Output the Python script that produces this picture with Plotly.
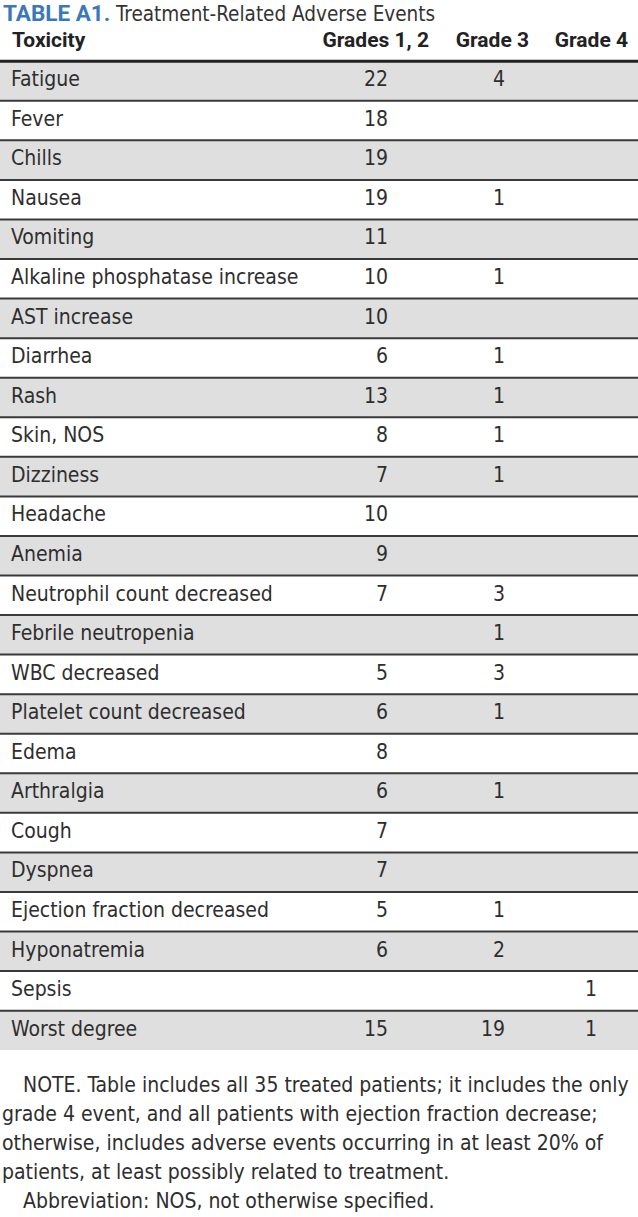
import plotly.graph_objects as go

# ---------------- data ----------------
toxicity = [
    "Fatigue", "Fever", "Chills", "Nausea", "Vomiting",
    "Alkaline phosphatase increase", "AST increase", "Diarrhea", "Rash",
    "Skin, NOS", "Dizziness", "Headache", "Anemia",
    "Neutrophil count decreased", "Febrile neutropenia", "WBC decreased",
    "Platelet count decreased", "Edema", "Arthralgia", "Cough", "Dyspnea",
    "Ejection fraction decreased", "Hyponatremia", "Sepsis", "Worst degree",
]
grades_1_2 = [22, 18, 19, 19, 11, 10, 10, 6, 13, 8, 7, 10, 9, 7, None, 5, 6, 8, 6, 7, 7, 5, 6, None, 15]
grade_3 = [4, None, None, 1, None, 1, None, 1, 1, 1, 1, None, None, 3, 1, 3, 1, None, 1, None, None, 1, 2, None, 19]
grade_4 = [None] * 23 + [1, 1]
headers = ["Toxicity", "Grades 1, 2", "Grade 3", "Grade 4"]
title_label = "TABLE A1."
title_text = "Treatment-Related Adverse Events"
note_lines = [
    "NOTE. Table includes all 35 treated patients; it includes the only",
    "grade 4 event, and all patients with ejection fraction decrease;",
    "otherwise, includes adverse events occurring in at least 20% of",
    "patients, at least possibly related to treatment.",
    "Abbreviation: NOS, not otherwise specified.",
]

# ---------------- layout constants ----------------
W, H = 638, 1217
ROW_PX = 39.56
ROW0_PX = 81.0
FONT = "Liberation Sans Narrow, DejaVu Sans Condensed, Arial Narrow, sans-serif"
HFONT = "Roboto, DejaVu Sans Condensed, sans-serif"
TXT = "#2e2e2e"
GRAY = "#dfdfe0"
LINE = "#3a3a3a"

n = len(toxicity)
rows = list(range(n))
ytop = (0 - ROW0_PX) / ROW_PX
ybot = (H - ROW0_PX) / ROW_PX


def fmt(v):
    return "" if v is None else str(v)


fig = go.Figure()

# alternating row backgrounds
fig.add_trace(go.Bar(
    x=[W] * n, y=rows, base=0, orientation="h", width=1.0,
    marker=dict(color=[GRAY if i % 2 == 0 else "#ffffff" for i in rows], line=dict(width=0)),
    hoverinfo="skip", showlegend=False,
))

# row labels
fig.add_trace(go.Scatter(
    x=[11] * n, y=rows, mode="text", text=toxicity, textposition="middle right",
    textfont=dict(family=FONT, size=21, color=TXT), hoverinfo="skip", showlegend=False,
))
# numeric columns (right aligned)
for xr, col in [(388, grades_1_2), (505, grade_3), (597, grade_4)]:
    fig.add_trace(go.Scatter(
        x=[xr] * n, y=rows, mode="text", text=[fmt(v) for v in col],
        textposition="middle left",
        textfont=dict(family=FONT, size=21, color=TXT), hoverinfo="skip", showlegend=False,
    ))

# header
fig.add_trace(go.Scatter(
    x=[12], y=[-1], mode="text", text=["<b>" + headers[0] + "</b>"], textposition="middle right",
    textfont=dict(family=HFONT, size=21, color="#222222"), hoverinfo="skip", showlegend=False,
))
fig.add_trace(go.Scatter(
    x=[429, 529, 628], y=[-1, -1, -1], mode="text",
    text=["<b>" + h + "</b>" for h in headers[1:]], textposition="middle left",
    textfont=dict(family=HFONT, size=21, color="#222222"), hoverinfo="skip", showlegend=False,
))

# rules
shapes = [dict(type="line", xref="x", yref="y", x0=0, x1=W, y0=-0.5, y1=-0.5,
               line=dict(color="#222222", width=3))]
for i in range(n - 1):
    shapes.append(dict(type="line", xref="x", yref="y", x0=0, x1=W, y0=i + 0.5, y1=i + 0.5,
                       line=dict(color=LINE, width=2)))

annotations = [dict(
    xref="x", yref="y", x=1, y=(13 - ROW0_PX) / ROW_PX, xanchor="left", yanchor="middle",
    showarrow=False,
    text=f"<span style='color:#3b78bb;font-family:Roboto;font-size:22.5px'><b>{title_label}</b></span> "
         f"<span style='color:#333333'>{title_text}</span>",
    font=dict(family=FONT, size=20.5),
)]
note_px = [1085, 1114, 1143, 1172, 1201]
for j, (line, py) in enumerate(zip(note_lines, note_px)):
    indent = 21 if j in (0, 4) else 0
    annotations.append(dict(
        xref="x", yref="y", x=indent, y=(py - ROW0_PX) / ROW_PX, xanchor="left", yanchor="middle",
        showarrow=False, text=line, font=dict(family=FONT, size=21, color=TXT),
    ))

fig.update_layout(
    width=W, height=H, margin=dict(l=0, r=0, t=0, b=0),
    paper_bgcolor="white", plot_bgcolor="white",
    xaxis=dict(range=[0, W], visible=False, fixedrange=True),
    yaxis=dict(range=[ybot, ytop], visible=False, fixedrange=True),
    shapes=shapes, annotations=annotations, bargap=0, showlegend=False,
)

fig.write_html(
    "out.html",
    config={"displayModeBar": False},
    post_script="document.body.style.margin='0';document.body.style.overflow='hidden';",
)
